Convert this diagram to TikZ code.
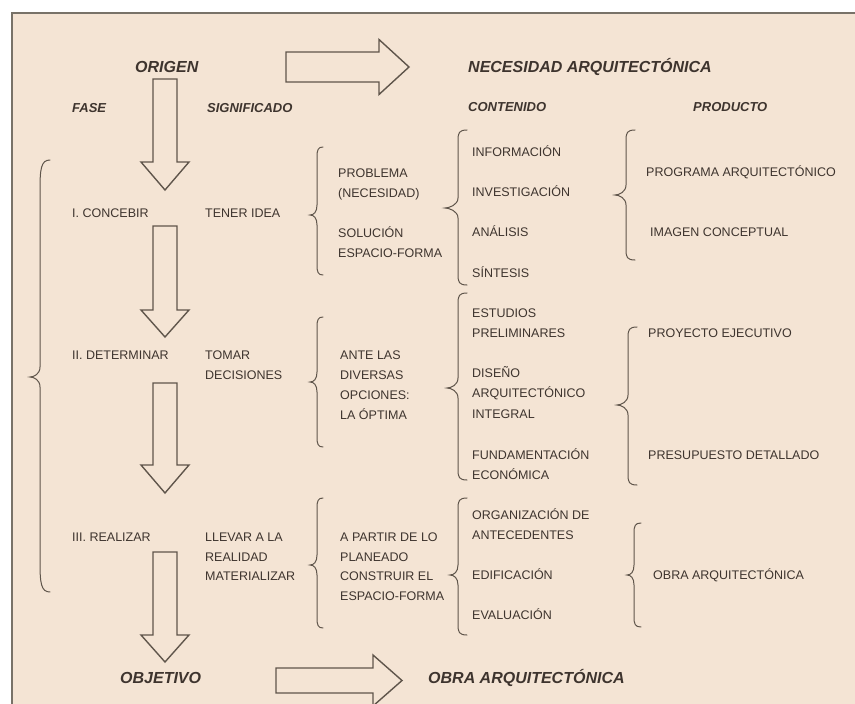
\documentclass[tikz,border=0pt]{standalone}
\usepackage{fontspec}
\setmainfont{Liberation Sans}
\definecolor{paper}{RGB}{244,228,212}
\definecolor{ink}{RGB}{62,52,46}
\definecolor{linec}{RGB}{95,85,75}
\definecolor{framec}{RGB}{120,114,104}
\newcommand\blockdown[4]{\draw[blk] ({#1-12},#2) -- ({#1+12},#2) -- ({#1+12},#3) -- ({#1+24},#3) -- (#1,#4) -- ({#1-24},#3) -- ({#1-12},#3) -- cycle;}
\newcommand\blockright[6]{\draw[blk] (#1,{#2-#5}) -- (#3,{#2-#5}) -- (#3,{#2-#6}) -- (#4,#2) -- (#3,{#2+#6}) -- (#3,{#2+#5}) -- (#1,{#2+#5}) -- cycle;}
% xend xline xtip ytop ymid ybot hook
\newcommand\curlyb[7]{\draw[brc] (#1,#4) .. controls ({#2+1},#4) and (#2,{#4+#7*0.3}) .. (#2,{#4+#7}) -- (#2,{#5-10}) .. controls (#2,{#5-3}) and ({#3+4},#5) .. (#3,#5) .. controls ({#3+4},#5) and (#2,{#5+3}) .. (#2,{#5+10}) -- (#2,{#6-#7}) .. controls (#2,{#6-#7*0.3}) and ({#2+1},#6) .. (#1,#6);}
\tikzset{
  txt/.style={anchor=base west, font=\fontsize{12.5}{15}\selectfont, text=ink, inner sep=0pt},
  hdr/.style={anchor=base west, font=\fontsize{13}{15}\selectfont\bfseries\itshape, text=ink, inner sep=0pt},
  ttl/.style={anchor=base west, font=\fontsize{16}{18}\selectfont\bfseries\itshape, text=ink, inner sep=0pt},
  blk/.style={draw=linec, line width=1.4pt, line join=miter},
  brc/.style={draw=linec, line width=1pt, line cap=round},
}
\begin{document}
\begin{tikzpicture}[x=1pt,y=-1pt]
\useasboundingbox (0,0) rectangle (855,704);
\fill[white] (0,0) rectangle (855,704);
\filldraw[fill=paper, draw=framec, line width=2pt] (12,13) rectangle (870,720);

% titles
\node[ttl] (origen) at (135,72.7) {ORIGEN};
\node[ttl] (necesidad) at (468,72.7) {NECESIDAD ARQUITECTÓNICA};
\node[ttl] (objetivo) at (120,683.7) {OBJETIVO};
\node[ttl] (obra) at (428,683.7) {OBRA ARQUITECTÓNICA};

% headers
\node[hdr] (fase) at (72,112.7) {FASE};
\node[hdr] (signif) at (207,112.7) {SIGNIFICADO};
\node[hdr] (conten) at (468,111.7) {CONTENIDO};
\node[hdr] (product) at (693,111.7) {PRODUCTO};

% fase
\node[txt] (f1) at (72,217.5) {I. CONCEBIR};
\node[txt] (f2) at (72,359.5) {II. DETERMINAR};
\node[txt] (f3) at (72,541.5) {III. REALIZAR};

% significado
\node[txt] (s1) at (205,217.5) {TENER IDEA};
\node[txt] (s2a) at (205,359.5) {TOMAR};
\node[txt] (s2b) at (205,379.5) {DECISIONES};
\node[txt] (s3a) at (205,541.5) {LLEVAR A LA};
\node[txt] (s3b) at (205,561.5) {REALIDAD};
\node[txt] (s3c) at (205,580.5) {MATERIALIZAR};

% third column
\node[txt] (m1a) at (338,177.5) {PROBLEMA};
\node[txt] (m1b) at (338,197.5) {(NECESIDAD)};
\node[txt] (m1c) at (338,237.5) {SOLUCIÓN};
\node[txt] (m1d) at (338,257.5) {ESPACIO-FORMA};
\node[txt] (m2a) at (340,359.5) {ANTE LAS};
\node[txt] (m2b) at (340,379.5) {DIVERSAS};
\node[txt] (m2c) at (340,399.5) {OPCIONES:};
\node[txt] (m2d) at (340,419.5) {LA ÓPTIMA};
\node[txt] (m3a) at (340,541.5) {A PARTIR DE LO};
\node[txt] (m3b) at (340,561.5) {PLANEADO};
\node[txt] (m3c) at (340,580.5) {CONSTRUIR EL};
\node[txt] (m3d) at (340,600.5) {ESPACIO-FORMA};

% contenido
\node[txt] (c1) at (472,156.5) {INFORMACIÓN};
\node[txt] (c2) at (472,196.5) {INVESTIGACIÓN};
\node[txt] (c3) at (472,236.5) {ANÁLISIS};
\node[txt] (c4) at (472,277.5) {SÍNTESIS};
\node[txt] (c5) at (472,317.5) {ESTUDIOS};
\node[txt] (c6) at (472,337.5) {PRELIMINARES};
\node[txt] (c7) at (472,377.5) {DISEÑO};
\node[txt] (c8) at (472,397.5) {ARQUITECTÓNICO};
\node[txt] (c9) at (472,418.5) {INTEGRAL};
\node[txt] (c10) at (472,459.5) {FUNDAMENTACIÓN};
\node[txt] (c11) at (472,479.5) {ECONÓMICA};
\node[txt] (c12) at (472,519.5) {ORGANIZACIÓN DE};
\node[txt] (c13) at (472,539.5) {ANTECEDENTES};
\node[txt] (c14) at (472,579.5) {EDIFICACIÓN};
\node[txt] (c15) at (472,619.5) {EVALUACIÓN};

% producto
\node[txt] (p1) at (646,176.5) {PROGRAMA ARQUITECTÓNICO};
\node[txt] (p2) at (650,236.5) {IMAGEN CONCEPTUAL};
\node[txt] (p3) at (648,337.5) {PROYECTO EJECUTIVO};
\node[txt] (p4) at (648,459.5) {PRESUPUESTO DETALLADO};
\node[txt] (p5) at (653,579.5) {OBRA ARQUITECTÓNICA};

% block arrows
\blockdown{165}{79}{162}{190}
\blockdown{165}{226}{310}{337}
\blockdown{165}{383}{465}{493}
\blockdown{165}{552}{635}{662}
\blockright{286}{67}{379}{409}{15}{27.5}
\blockright{276}{680.5}{373}{402}{12.5}{25.5}

% braces
\curlyb{50}{40}{30}{160}{377}{592}{30}
\curlyb{323}{317}{310}{147}{215}{275}{10}
\curlyb{323}{317}{310}{317}{382}{447}{10}
\curlyb{323}{317}{310}{498}{565}{628}{10}
\curlyb{467}{458}{445}{130}{208}{285}{10}
\curlyb{467}{458}{447}{293}{388}{480}{10}
\curlyb{467}{458}{450}{498}{575}{635}{10}
\curlyb{635}{626}{615}{130}{195}{260}{10}
\curlyb{637}{628}{617}{327}{405}{485}{10}
\curlyb{641}{634}{627}{523}{575}{627}{10}
\end{tikzpicture}
\end{document}
